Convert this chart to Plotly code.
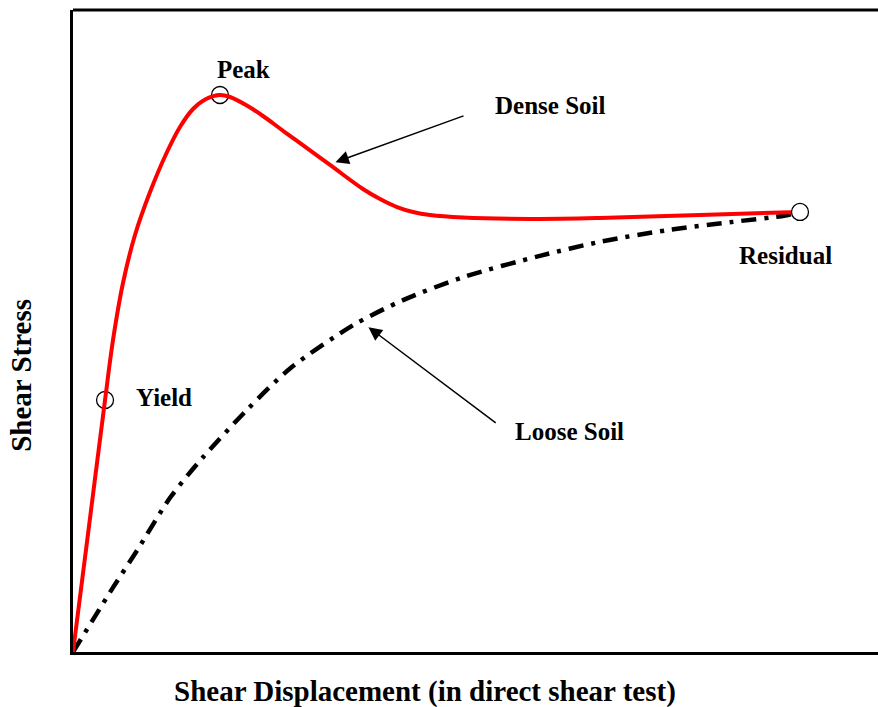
import plotly.graph_objects as go

# Dense soil curve (shear displacement, shear stress) - arbitrary units
dense_x = [0.000, 0.199, 0.398, 0.497, 0.621, 0.770, 0.957, 1.168, 1.329, 1.491, 1.652, 1.826,
           1.950, 2.149, 2.360, 2.571, 2.783, 3.193, 3.602, 3.814, 4.025, 4.224, 4.435, 4.845,
           5.677, 6.547, 7.789, 9.031]
dense_y = [0.000, 1.963, 3.925, 4.860, 5.748, 6.495, 7.165, 7.788, 8.178, 8.458, 8.614, 8.676,
           8.645, 8.520, 8.349, 8.154, 7.960, 7.586, 7.212, 7.056, 6.931, 6.854, 6.807, 6.768,
           6.745, 6.760, 6.807, 6.854]

# Loose soil curve
loose_x = [0.00, 0.50, 0.80, 1.21, 1.62, 2.16, 2.70, 3.48, 4.10, 4.85, 5.80, 6.55, 7.38,
           8.20, 8.85, 9.031]
loose_y = [0.00, 1.01, 1.59, 2.41, 3.04, 3.77, 4.42, 5.09, 5.48, 5.84, 6.17, 6.39, 6.57,
           6.70, 6.80, 6.854]

YIELD_IDX = 2
PEAK_IDX = 11
RES_IDX = len(dense_x) - 1

FONT = "Liberation Serif, Times New Roman, serif"

fig = go.Figure()

# open circles under the curve (yield, peak)
fig.add_trace(go.Scatter(
    x=[dense_x[YIELD_IDX], dense_x[PEAK_IDX]],
    y=[dense_y[YIELD_IDX], dense_y[PEAK_IDX]],
    mode="markers",
    marker=dict(symbol="circle-open", size=17, color="black", line=dict(width=1.3)),
    hoverinfo="skip", showlegend=False, cliponaxis=False))

fig.add_trace(go.Scatter(
    x=loose_x, y=loose_y, mode="lines",
    line=dict(color="black", width=4.5, dash="15px,8px,4px,8px", shape="spline", smoothing=0.8),
    showlegend=False, cliponaxis=False))

fig.add_trace(go.Scatter(
    x=dense_x, y=dense_y, mode="lines",
    line=dict(color="#FF0000", width=4, shape="spline", smoothing=1.0),
    showlegend=False, cliponaxis=False))

# residual circle on top, white filled
fig.add_trace(go.Scatter(
    x=[dense_x[RES_IDX]], y=[dense_y[RES_IDX]],
    mode="markers",
    marker=dict(symbol="circle", size=17, color="white", line=dict(width=1.3, color="black")),
    hoverinfo="skip", showlegend=False, cliponaxis=False))

def label(text, x, y, size=25):
    fig.add_annotation(x=x, y=y, xref="x", yref="y", text="<b>%s</b>" % text,
                       showarrow=False, font=dict(family=FONT, size=size, color="black"),
                       xanchor="center", yanchor="middle")

label("Peak", 2.12, 9.07)
label("Dense Soil", 5.93, 8.52)
label("Residual", 8.85, 6.18)
label("Yield", 1.13, 3.96)
label("Loose Soil", 6.17, 3.43)

# arrows
fig.add_annotation(x=3.26, y=7.63, ax=4.87, ay=8.36, xref="x", yref="y", axref="x", ayref="y",
                   text="", showarrow=True, arrowhead=2, arrowsize=1.8, arrowwidth=1.5,
                   arrowcolor="black")
fig.add_annotation(x=3.67, y=5.06, ax=5.27, ay=3.55, xref="x", yref="y", axref="x", ayref="y",
                   text="", showarrow=True, arrowhead=2, arrowsize=1.8, arrowwidth=1.5,
                   arrowcolor="black")

# axis titles
fig.add_annotation(x=0.437, y=-0.062, xref="paper", yref="paper",
                   text="<b>Shear Displacement (in direct shear test)</b>", showarrow=False,
                   font=dict(family=FONT, size=29, color="black"), xanchor="center", yanchor="middle")
fig.add_annotation(x=-0.064, y=0.431, xref="paper", yref="paper",
                   text="<b>Shear Stress</b>", showarrow=False, textangle=-90,
                   font=dict(family=FONT, size=29, color="black"), xanchor="center", yanchor="middle")

# top border line
fig.add_shape(type="line", xref="paper", yref="paper", x0=0, x1=1, y0=1, y1=1,
              line=dict(color="black", width=3))

fig.update_xaxes(range=[0, 10], showline=True, linecolor="black", linewidth=3,
                 showticklabels=False, ticks="", showgrid=False, zeroline=False)
fig.update_yaxes(range=[0, 10], showline=True, linecolor="black", linewidth=3,
                 showticklabels=False, ticks="", showgrid=False, zeroline=False)

fig.update_layout(width=878, height=707, margin=dict(l=73, r=0, t=10, b=55),
                  paper_bgcolor="white", plot_bgcolor="white", showlegend=False)

fig.write_html("out.html", config={"displayModeBar": False},
               post_script="document.body.style.margin='0px';document.body.style.overflow='hidden';")
